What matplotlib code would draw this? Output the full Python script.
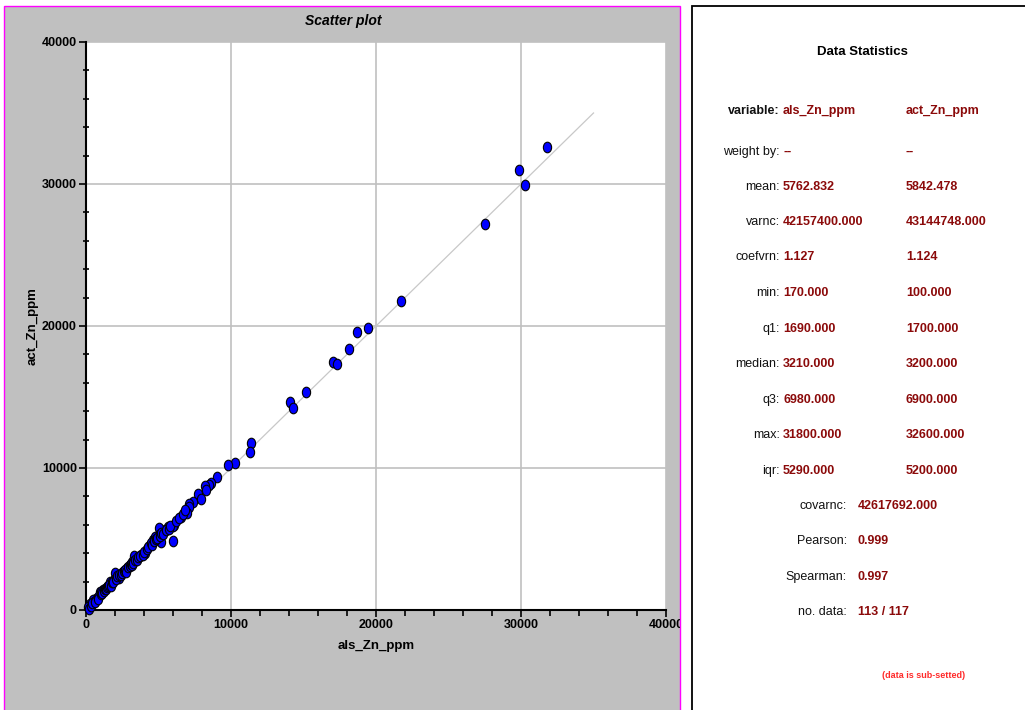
import matplotlib.pyplot as plt
from matplotlib.patches import Rectangle
from matplotlib.path import Path
from matplotlib.transforms import Affine2D
import numpy as np

# scatter data
als_zn = [31800, 29850, 30300, 27500, 21700, 19450, 18700, 18150, 17000, 17300,
          15150, 14050, 14300, 11350, 11300, 10300, 9800, 9000, 8650, 8500,
          8200, 8300, 7700, 7900, 7350, 7100, 7100, 6950, 6550, 6100,
          6000, 5650, 5450, 5000, 5000, 5150, 6000, 4600, 4750, 4400,
          4100, 3800, 3300, 3200, 3050, 2800, 2550, 2000, 2250, 1900,
          1650, 1750, 1200, 950, 700, 500, 280, 170,
          200, 350, 400, 600, 650, 800, 850, 1000, 1050, 1100,
          1250, 1300, 1400, 1450, 1500, 1600, 1700, 1800, 1850, 2100,
          2150, 2300, 2400, 2500, 2600, 2700, 2750, 2900, 3000, 3100,
          3150, 3250, 3400, 3500, 3600, 3700, 3900, 4000, 4200, 4300,
          4450, 4550, 4700, 4850, 4900, 5100, 5200, 5300, 5500, 5700,
          5800, 6200, 6400, 6700, 6850]
act_zn = [32600, 31000, 29900, 27150, 21750, 19850, 19600, 18350, 17450, 17350,
          15350, 14650, 14200, 11750, 11100, 10350, 10200, 9400, 8950, 8800,
          8700, 8450, 8200, 7800, 7600, 7450, 7250, 6850, 6550, 6000,
          5950, 5850, 5650, 5750, 5300, 4800, 4850, 4950, 5150, 4550,
          4000, 3850, 3800, 3400, 3200, 2950, 2700, 2600, 2250, 2100,
          2000, 1850, 1400, 1250, 800, 700, 450, 230,
          100, 300, 500, 650, 550, 900, 750, 1100, 1300, 1200,
          1350, 1500, 1450, 1600, 1700, 1750, 1700, 1950, 2000, 2200,
          2400, 2450, 2500, 2600, 2750, 2850, 2700, 3000, 3100, 3250,
          3200, 3300, 3500, 3550, 3750, 3800, 3900, 4100, 4300, 4450,
          4700, 4600, 4850, 5000, 5100, 5200, 5450, 5350, 5600, 5700,
          5900, 6250, 6450, 6750, 7050]
line_end = 35000

xticks = [0, 10000, 20000, 30000, 40000]
yticks = [0, 10000, 20000, 30000, 40000]

stat_labels = ['variable:', 'weight by:', 'mean:', 'varnc:', 'coefvrn:', 'min:',
               'q1:', 'median:', 'q3:', 'max:', 'iqr:']
stat_als = ['als_Zn_ppm', '--', '5762.832', '42157400.000', '1.127', '170.000',
            '1690.000', '3210.000', '6980.000', '31800.000', '5290.000']
stat_act = ['act_Zn_ppm', '--', '5842.478', '43144748.000', '1.124', '100.000',
            '1700.000', '3200.000', '6900.000', '32600.000', '5200.000']
pair_labels = ['covarnc:', 'Pearson:', 'Spearman:', 'no. data:']
pair_values = ['42617692.000', '0.999', '0.997', '113 / 117']

plt.rcParams['font.family'] = ['Liberation Sans', 'DejaVu Sans']

W, H = 1025, 710
fig = plt.figure(figsize=(W / 100, H / 100), dpi=100)


def fx(px):
    return px / W


def fy(py):
    return 1 - py / H


# grey chart panel and white stats panel
panel = Rectangle((fx(4), fy(712)), fx(680) - fx(4), fy(6) - fy(712),
                  transform=fig.transFigure, facecolor='#c0c0c0',
                  edgecolor='#ff00ff', lw=1, zorder=-2)
fig.add_artist(panel)
box = Rectangle((fx(692), fy(712)), fx(1035) - fx(692), fy(6) - fy(712),
                transform=fig.transFigure, facecolor='white',
                edgecolor='black', lw=1.3, zorder=-2)
fig.add_artist(box)

ax = fig.add_axes([fx(86), fy(610), fx(666) - fx(86), fy(42) - fy(610)])
ax.set_facecolor('white')
ax.set_xlim(0, 40000)
ax.set_ylim(0, 40000)

ax.plot([0, line_end], [0, line_end], color='#c8c8c8', lw=0.9, zorder=2)

ell = Path.unit_circle().transformed(Affine2D().scale(0.78, 1.0))
ax.scatter(als_zn, act_zn, s=58, marker=ell, facecolor='#0000ff',
           edgecolor='black', linewidths=0.8, zorder=3, clip_on=False)

ax.set_xticks(xticks)
ax.set_yticks(yticks)
ax.set_xticklabels([str(t) for t in xticks])
ax.set_yticklabels([str(t) for t in yticks])
ax.set_xticks(np.arange(0, 40001, 2000), minor=True)
ax.set_yticks(np.arange(0, 40001, 2000), minor=True)
ax.tick_params(which='major', direction='out', length=5, width=1.2,
               labelsize=9, pad=1.5)
ax.tick_params(axis='y', which='minor', direction='inout', length=5, width=1.2)
ax.tick_params(axis='x', which='minor', direction='out', length=4, width=1.2)
for lab in ax.get_xticklabels() + ax.get_yticklabels():
    lab.set_fontweight('bold')
ax.grid(which='major', color='#c0c0c0', lw=1.2, zorder=1)
ax.set_axisbelow(True)
for s in ['top', 'right']:
    ax.spines[s].set_visible(False)
for s in ['left', 'bottom']:
    ax.spines[s].set_linewidth(1.5)

# last x tick label is cut by the panel edge
ax.xaxis.get_major_ticks()[-1].label1.set_clip_path(panel)

fig.text(fx(343), fy(21), 'Scatter plot', ha='center', va='center',
         weight='bold', style='italic', size=10)
fig.text(fx(376), fy(646), 'als_Zn_ppm', ha='center', va='center',
         weight='bold', size=9.5)
fig.text(fx(33), fy(326), 'act_Zn_ppm', ha='center', va='center',
         weight='bold', size=9.5, rotation=90)

# stats panel
dark_red = '#8b0a0a'
fig.text(fx(862), fy(52), 'Data Statistics', ha='center', va='center',
         weight='bold', size=9.5)
row_y = [111, 152, 187, 222, 257, 293, 329, 364, 400, 435, 471]
for i, y in enumerate(row_y):
    fig.text(fx(780), fy(y), stat_labels[i], ha='right', va='center',
             size=9, weight='bold' if i == 0 else 'normal', color='#111111')
    fig.text(fx(783), fy(y), stat_als[i], ha='left', va='center', size=9,
             weight='bold', color=dark_red)
    fig.text(fx(906), fy(y), stat_act[i], ha='left', va='center', size=9,
             weight='bold', color=dark_red)

pair_y = [506, 541, 577, 612]
for i, y in enumerate(pair_y):
    fig.text(fx(847), fy(y), pair_labels[i], ha='right', va='center',
             size=9, color='#111111')
    fig.text(fx(858), fy(y), pair_values[i], ha='left', va='center', size=9,
             weight='bold', color=dark_red)

fig.text(fx(924), fy(676), '(data is sub-setted)', ha='center', va='center',
         size=6.5, weight='bold', color='#ff2a2a')

fig.savefig('out.png', dpi=100)
